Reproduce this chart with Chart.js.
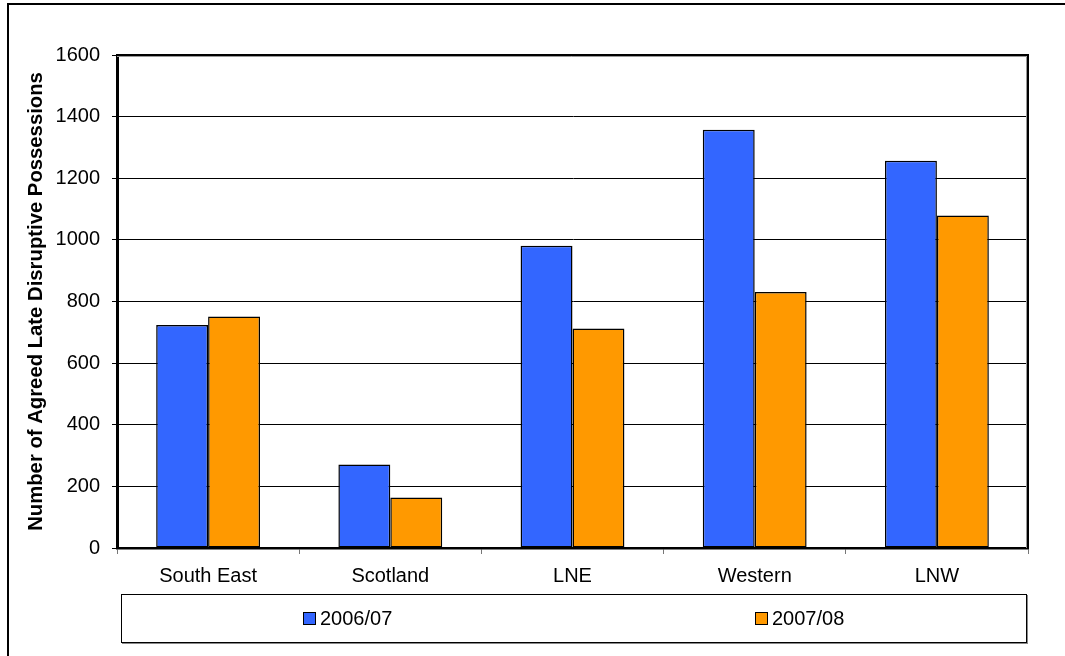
<!DOCTYPE html>
<html>
<head>
<meta charset="utf-8">
<script src="https://cdn.jsdelivr.net/npm/chart.js@4"></script>
<style>
  html, body { margin: 0; padding: 0; background: #fff; }
  #wrap { width: 1065px; height: 656px; }
</style>
</head>
<body>
<div id="wrap"><canvas id="possChart" width="1065" height="656"></canvas></div>
<script>
const regions = ['South East', 'Scotland', 'LNE', 'Western', 'LNW'];
const seriesNames = ['2006/07', '2007/08'];
const values0607 = [724, 271, 981, 1357, 1257];
const values0708 = [751, 164, 712, 831, 1079];
const yTicks = [0, 200, 400, 600, 800, 1000, 1200, 1400, 1600];

const FONT = "'Liberation Sans', Arial, sans-serif";

// outer frame, plot area box and the boxed legend underneath
const framePlugin = {
    id: 'frame',
    beforeDraw(chart) {
        const ctx = chart.ctx;
        ctx.save();
        ctx.fillStyle = '#fff';
        ctx.fillRect(0, 0, chart.width, chart.height);
        ctx.strokeStyle = '#000';
        ctx.lineWidth = 2;
        ctx.strokeRect(8, 4, chart.width + 20, chart.height + 20);
        ctx.restore();
    },
    afterDraw(chart) {
        const ctx = chart.ctx;
        const a = chart.chartArea;
        ctx.save();
        ctx.strokeStyle = '#999';
        ctx.lineWidth = 1;
        ctx.beginPath();
        ctx.moveTo(a.left, a.top + 1.5);
        ctx.lineTo(a.right - 1.5, a.top + 1.5);
        ctx.lineTo(a.right - 1.5, a.bottom);
        ctx.stroke();
        ctx.strokeStyle = '#000';
        ctx.lineWidth = 2;
        ctx.beginPath();
        ctx.moveTo(a.left, a.top);
        ctx.lineTo(a.right, a.top);
        ctx.lineTo(a.right, a.bottom);
        ctx.stroke();

        // legend box
        const bx = a.left + 4, bw = a.right - a.left - 6;
        const by = 594, bh = 48;
        ctx.lineWidth = 1;
        ctx.strokeStyle = '#888';
        ctx.strokeRect(bx + 1.5, by + 1.5, bw, bh);
        ctx.strokeStyle = '#000';
        ctx.fillStyle = '#fff';
        ctx.fillRect(bx + 0.5, by + 0.5, bw, bh);
        ctx.strokeRect(bx + 0.5, by + 0.5, bw, bh);

        ctx.font = '20px ' + FONT;
        ctx.textBaseline = 'middle';
        const slot = bw / chart.data.datasets.length;
        chart.data.datasets.forEach((ds, i) => {
            const tw = ctx.measureText(ds.label).width;
            const w = 12 + 5 + tw;
            const x0 = Math.round(bx + slot * i + (slot - w) / 2);
            const cy = by + bh / 2;
            ctx.fillStyle = ds.backgroundColor;
            ctx.fillRect(x0 + 0.5, cy - 5.5, 12, 12);
            ctx.strokeStyle = '#000';
            ctx.strokeRect(x0 + 0.5, cy - 5.5, 12, 12);
            ctx.fillStyle = '#000';
            ctx.textAlign = 'left';
            ctx.fillText(ds.label, x0 + 17, cy + 1);
        });
        ctx.restore();
    }
};

new Chart(document.getElementById('possChart'), {
    type: 'bar',
    data: {
        labels: regions,
        datasets: [{
            label: seriesNames[0],
            data: values0607,
            backgroundColor: '#3366FF',
            borderColor: '#000',
            borderWidth: 1.5,
            borderSkipped: false
        }, {
            label: seriesNames[1],
            data: values0708,
            backgroundColor: '#FF9900',
            borderColor: '#000',
            borderWidth: 1.5,
            borderSkipped: false
        }]
    },
    options: {
        responsive: false,
        animation: false,
        devicePixelRatio: 1,
        categoryPercentage: 0.57,
        barPercentage: 1.0,
        layout: { padding: { top: 55, right: 37, bottom: 48, left: 0 } },
        plugins: {
            legend: { display: false },
            tooltip: { enabled: false }
        },
        scales: {
            x: {
                afterFit(scale) { scale.height = 60; },
                grid: {
                    drawOnChartArea: false,
                    drawTicks: true,
                    tickLength: 6,
                    tickColor: '#777',
                    lineWidth: 1
                },
                border: { color: '#000', width: 2.5 },
                ticks: {
                    color: '#000',
                    padding: 10,
                    font: { family: FONT, size: 20 }
                }
            },
            y: {
                min: 0,
                max: 1600,
                afterFit(scale) { scale.width = 117; },
                afterBuildTicks(scale) { scale.ticks = yTicks.map(v => ({ value: v })); },
                grid: {
                    color: '#000',
                    lineWidth: 1,
                    tickLength: 5,
                    tickColor: '#000'
                },
                border: { color: '#000', width: 3 },
                ticks: {
                    color: '#000',
                    padding: 12,
                    font: { family: FONT, size: 20 },
                    callback: v => String(v)
                },
                title: {
                    display: true,
                    text: 'Number of Agreed Late Disruptive Possessions',
                    color: '#000',
                    padding: { top: 24, bottom: 0 },
                    font: { family: FONT, size: 20.3, weight: 'bold' }
                }
            }
        }
    },
    plugins: [framePlugin]
});
</script>
</body>
</html>
